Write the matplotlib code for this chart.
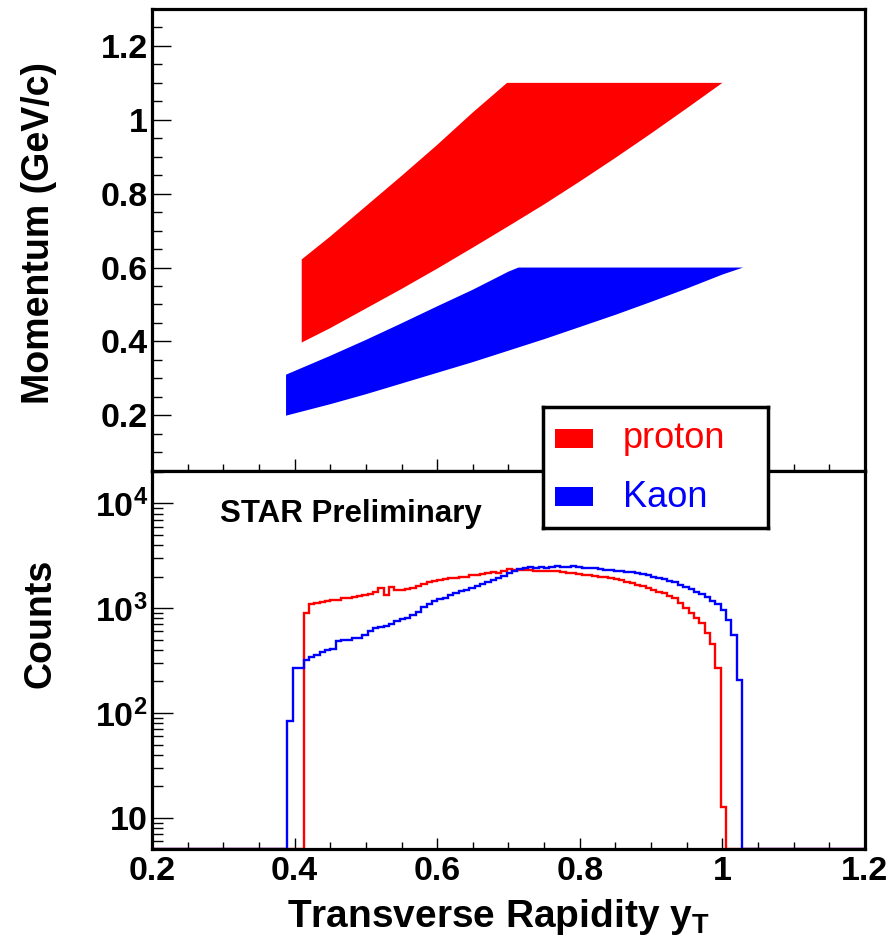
import numpy as np
import matplotlib
matplotlib.use("Agg")
import matplotlib.pyplot as plt
from matplotlib.patches import Rectangle
from matplotlib.ticker import FixedLocator, FixedFormatter, MultipleLocator, LogLocator, NullFormatter

plt.rcParams['font.family'] = ['Liberation Sans', 'DejaVu Sans']
plt.rcParams['mathtext.fontset'] = 'custom'
plt.rcParams['mathtext.rm'] = 'Liberation Sans'
plt.rcParams['mathtext.bf'] = 'Liberation Sans:bold'
plt.rcParams['mathtext.it'] = 'Liberation Sans:italic'

# ---------------- data ----------------
series_names = ["proton", "Kaon"]
series_colors = ["#ff0000", "#0000ff"]

# top panel: acceptance bands (momentum vs transverse rapidity), polygon outlines
proton_band_yt = [0.41, 0.41, 0.45, 0.50, 0.55, 0.60, 0.65, 0.698, 1.004,
                  1.00, 0.95, 0.90, 0.85, 0.80, 0.75, 0.70, 0.65, 0.60, 0.55, 0.50, 0.45, 0.41]
proton_band_p = [0.397, 0.622, 0.684, 0.766, 0.848, 0.932, 1.020, 1.100, 1.100,
                 1.100, 1.031, 0.963, 0.897, 0.833, 0.771, 0.712, 0.654, 0.597, 0.542, 0.489, 0.436, 0.397]
kaon_band_yt = [0.388, 0.388, 0.45, 0.50, 0.55, 0.60, 0.65, 0.70, 0.714, 1.029,
                1.00, 0.95, 0.90, 0.85, 0.80, 0.75, 0.70, 0.65, 0.60, 0.55, 0.50, 0.45, 0.388]
kaon_band_p = [0.199, 0.310, 0.361, 0.404, 0.449, 0.495, 0.540, 0.589, 0.600, 0.600,
               0.581, 0.543, 0.507, 0.472, 0.439, 0.406, 0.375, 0.344, 0.315, 0.286, 0.257, 0.230, 0.199]

# bottom panel: y_T histograms (bin width 0.0075)
hist_first_edge = 0.195
hist_bin_width = 0.0075
hist_nbins = 135
proton_first_bin = 29   # bin starting at y_T = 0.4125
kaon_first_bin = 26     # bin starting at y_T = 0.39
proton_counts = [900, 1100, 1130, 1150, 1160, 1190, 1200, 1250, 1260, 1280,
                 1300, 1340, 1380, 1420, 1560, 1340, 1600, 1500, 1480, 1530,
                 1560, 1620, 1700, 1760, 1830, 1850, 1900, 1920, 1950, 1980,
                 2000, 2080, 2050, 2100, 2150, 2200, 2180, 2250, 2380, 2300,
                 2320, 2290, 2300, 2280, 2270, 2280, 2260, 2270, 2200, 2180,
                 2150, 2120, 2080, 2060, 2030, 2000, 1980, 1940, 1900, 1850,
                 1780, 1720, 1670, 1620, 1560, 1500, 1440, 1390, 1320, 1250,
                 1120, 1000, 900, 800, 720, 580, 460, 268, 12.8]
kaon_counts = [83, 267, 267, 320, 345, 360, 380, 400, 410, 490,
               495, 500, 520, 515, 560, 600, 640, 660, 680, 700,
               760, 780, 800, 870, 920, 1030, 1100, 1180, 1220, 1260,
               1330, 1390, 1450, 1500, 1560, 1620, 1700, 1780, 1850, 1950,
               2030, 2150, 2250, 2350, 2420, 2450, 2420, 2450, 2440, 2460,
               2500, 2480, 2460, 2550, 2470, 2440, 2420, 2400, 2350, 2320,
               2300, 2260, 2240, 2220, 2200, 2160, 2120, 2060, 2000, 1950,
               1900, 1820, 1760, 1680, 1600, 1520, 1420, 1360, 1280, 1180,
               1100, 960, 770, 556, 207]

x_ticks = [0.2, 0.4, 0.6, 0.8, 1.0, 1.2]
x_ticklabels = ["0.2", "0.4", "0.6", "0.8", "1", "1.2"]
p_ticks = [0.2, 0.4, 0.6, 0.8, 1.0, 1.2]
p_ticklabels = ["0.2", "0.4", "0.6", "0.8", "1", "1.2"]
c_ticks = [10, 100, 1000, 10000]
c_ticklabels = ["10", r"$\mathbf{10^{2}}$", r"$\mathbf{10^{3}}$", r"$\mathbf{10^{4}}$"]

# ---------------- figure ----------------
W, H = 895, 946
fig = plt.figure(figsize=(W / 100, H / 100), dpi=100)

def fx(px):
    return px / W

def fy(py):
    return 1 - py / H

L, R = 152, 865
T1, B1 = 9, 470.7
B2 = 849.3
ax1 = fig.add_axes([fx(L), fy(B1), (R - L) / W, (B1 - T1) / H])
ax2 = fig.add_axes([fx(L), fy(B2), (R - L) / W, (B2 - B1) / H])

tick_fs = 24.5
lw_spine = 2.3

# top panel
ax1.fill(proton_band_yt, proton_band_p, color=series_colors[0], lw=0)
ax1.fill(kaon_band_yt, kaon_band_p, color=series_colors[1], lw=0)
ax1.set_xlim(0.2, 1.2)
ax1.set_ylim(0.05, 1.3)
ax1.xaxis.set_major_locator(FixedLocator(x_ticks))
ax1.xaxis.set_minor_locator(MultipleLocator(0.05))
ax1.xaxis.set_major_formatter(NullFormatter())
ax1.yaxis.set_major_locator(FixedLocator(p_ticks))
ax1.yaxis.set_major_formatter(FixedFormatter(p_ticklabels))
ax1.yaxis.set_minor_locator(MultipleLocator(0.05))
ax1.tick_params(axis='x', which='major', direction='in', length=9, width=1, top=False)
ax1.tick_params(axis='x', which='minor', direction='in', length=5, width=1, top=False)
ax1.tick_params(axis='y', which='major', direction='in', length=14, width=1, right=False,
                labelsize=tick_fs, pad=3)
ax1.tick_params(axis='y', which='minor', direction='in', length=7, width=1, right=False)
for lab in ax1.get_yticklabels():
    lab.set_fontweight('bold')

# bottom panel
edges = hist_first_edge + hist_bin_width * np.arange(hist_nbins + 1)
floor = 5.0
prot_full = np.full(hist_nbins, floor)
prot_full[proton_first_bin:proton_first_bin + len(proton_counts)] = proton_counts
kaon_full = np.full(hist_nbins, floor)
kaon_full[kaon_first_bin:kaon_first_bin + len(kaon_counts)] = kaon_counts
ax2.stairs(prot_full, edges, color=series_colors[0], lw=1.7, baseline=None)
ax2.stairs(kaon_full, edges, color=series_colors[1], lw=1.7, baseline=None)
ax2.set_yscale('log')
ax2.set_xlim(0.2, 1.2)
ax2.set_ylim(5, 2.05e4)
ax2.xaxis.set_major_locator(FixedLocator(x_ticks))
ax2.xaxis.set_major_formatter(FixedFormatter(x_ticklabels))
ax2.xaxis.set_minor_locator(MultipleLocator(0.05))
ax2.yaxis.set_major_locator(FixedLocator(c_ticks))
ax2.yaxis.set_major_formatter(FixedFormatter(c_ticklabels))
ax2.yaxis.set_minor_locator(LogLocator(base=10, subs=np.arange(2, 10)))
ax2.yaxis.set_minor_formatter(NullFormatter())
ax2.tick_params(axis='x', which='major', direction='in', length=8, width=1, top=False,
                labelsize=tick_fs, pad=5)
ax2.tick_params(axis='x', which='minor', direction='in', length=5, width=1, top=False)
ax2.tick_params(axis='y', which='major', direction='in', length=15, width=1, right=False,
                labelsize=tick_fs, pad=3)
ax2.tick_params(axis='y', which='minor', direction='in', length=8, width=1, right=False)
for lab in ax2.get_xticklabels() + ax2.get_yticklabels():
    lab.set_fontweight('bold')

for ax in (ax1, ax2):
    for sp in ax.spines.values():
        sp.set_linewidth(lw_spine)

# texts
fig.text(fx(39), fy(233), "Momentum (GeV/c)", rotation=90, ha='center', va='center',
         fontsize=27, fontweight='bold')
fig.text(fx(41), fy(623), "Counts", rotation=90, ha='center', va='center',
         fontsize=27, fontweight='bold')
fig.text(fx(287), fy(927), r"Transverse Rapidity y$_{\mathbf{T}}$", ha='left', va='baseline',
         fontsize=28, fontweight='bold')
fig.text(fx(220), fy(521.7), "STAR Preliminary", ha='left', va='baseline',
         fontsize=22.5, fontweight='bold')

# legend box
leg = fig.add_axes([fx(543), fy(528), 225 / W, 121 / H])
leg.set_zorder(10)
leg.set_xlim(0, 1)
leg.set_ylim(0, 1)
leg.set_xticks([])
leg.set_yticks([])
for sp in leg.spines.values():
    sp.set_linewidth(2.5)
leg.add_patch(Rectangle((0.053, 0.661), 0.169, 0.157, color=series_colors[0], lw=0))
leg.add_patch(Rectangle((0.053, 0.182), 0.169, 0.154, color=series_colors[1], lw=0))
leg.text(0.356, 0.659, series_names[0], color=series_colors[0], fontsize=26, va='baseline', ha='left')
leg.text(0.356, 0.176, series_names[1], color=series_colors[1], fontsize=26, va='baseline', ha='left')

fig.savefig("out.png", dpi=100)
